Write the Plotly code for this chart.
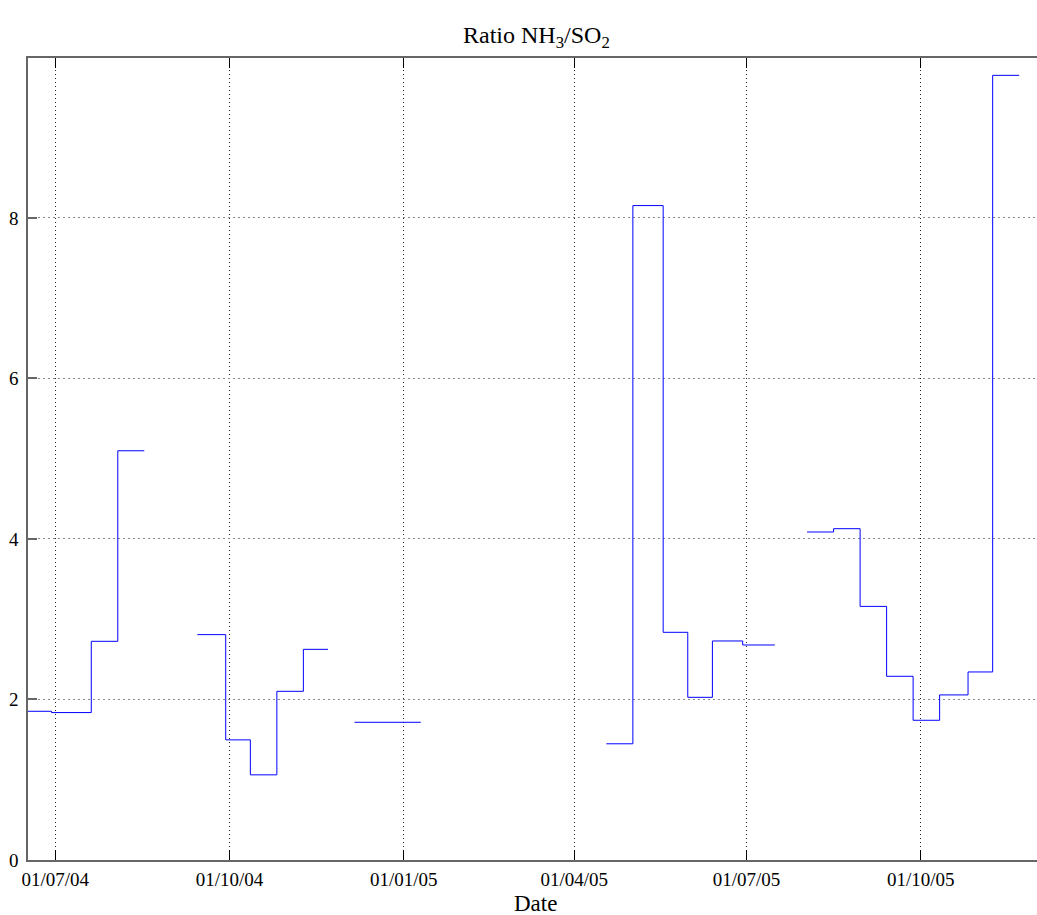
import plotly.graph_objects as go

# Period start dates (stairs: value holds until the next date); None = no data
dates = [
    "2004-06-16 14:00", "2004-06-29", "2004-07-20", "2004-08-03", "2004-08-17",
    "2004-09-14", "2004-09-29", "2004-10-12", "2004-10-26", "2004-11-09", "2004-11-22",
    "2004-12-06", "2005-01-10",
    "2005-04-18", "2005-05-02", "2005-05-18", "2005-05-31", "2005-06-13", "2005-06-29", "2005-07-16",
    "2005-08-02", "2005-08-16", "2005-08-30", "2005-09-13", "2005-09-27", "2005-10-11",
    "2005-10-26", "2005-11-08", "2005-11-22",
]
ratio = [
    1.853, 1.837, 2.725, 5.099, None,
    2.808, 1.497, 1.061, 2.102, 2.625, None,
    1.716, None,
    1.448, 8.154, 2.837, 2.027, 2.729, 2.679, None,
    4.087, 4.128, 3.160, 2.289, 1.741, 2.057,
    2.343, 9.777, None,
]

tick_dates = ["2004-07-01", "2004-10-01", "2005-01-01", "2005-04-01", "2005-07-01", "2005-10-01"]
tick_labels = ["01/07/04", "01/10/04", "01/01/05", "01/04/05", "01/07/05", "01/10/05"]
y_ticks = [0, 2, 4, 6, 8]

# build stairs path (MATLAB stairs semantics)
xs, ys = [], []
for i in range(len(dates) - 1):
    v = ratio[i]
    if v is None:
        continue
    xs += [dates[i], dates[i + 1]]
    ys += [v, v]
    if ratio[i + 1] is None:
        xs.append(None)
        ys.append(None)

fig = go.Figure()
fig.add_trace(go.Scatter(x=xs, y=ys, mode="lines", line=dict(color="#0000ff", width=1),
                         connectgaps=False, showlegend=False, hoverinfo="skip"))

font = "Liberation Serif, Times New Roman, serif"
fig.update_layout(
    width=1037, height=915,
    margin=dict(l=28, r=0, t=58, b=55),
    paper_bgcolor="white", plot_bgcolor="white",
    font=dict(family=font, size=19, color="black"),
    showlegend=False,
    xaxis=dict(
        type="date",
        range=["2004-06-16 14:00", "2005-12-01 10:00"],
        tickmode="array", tickvals=tick_dates, ticktext=tick_labels,
        ticks="inside", ticklen=10, tickwidth=1, tickcolor="black",
        showline=True, linecolor="#666666", linewidth=1.5, mirror="ticks",
        showgrid=True, gridcolor="#222222", gridwidth=1, griddash="1px,3px",
        zeroline=False, ticklabelstandoff=1,
        tickfont=dict(family=font, size=19, color="black"),
    ),
    yaxis=dict(
        range=[0, 9.993],
        tickmode="array", tickvals=y_ticks, ticktext=[str(v) for v in y_ticks],
        ticks="inside", ticklen=9, tickwidth=1.5, tickcolor="#666666",
        showline=True, linecolor="#666666", linewidth=1.5, mirror=False,
        showgrid=True, gridcolor="#888888", gridwidth=1, griddash="1.5px,3.5px",
        zeroline=False, ticklabelstandoff=4,
        tickfont=dict(family=font, size=19, color="black"),
    ),
    annotations=[
        dict(text="Ratio NH<sub>3</sub>/SO<sub>2</sub>", xref="paper", yref="paper",
             x=(536 - 28) / 1009, y=1, xanchor="center", yanchor="middle", yshift=21,
             showarrow=False, font=dict(family=font, size=24, color="black")),
        dict(text="Date", xref="paper", yref="paper",
             x=(535 - 28) / 1009, y=0, xanchor="center", yanchor="middle", yshift=-43,
             showarrow=False, font=dict(family=font, size=23, color="black")),
    ],
)

fig.write_html("out.html")
